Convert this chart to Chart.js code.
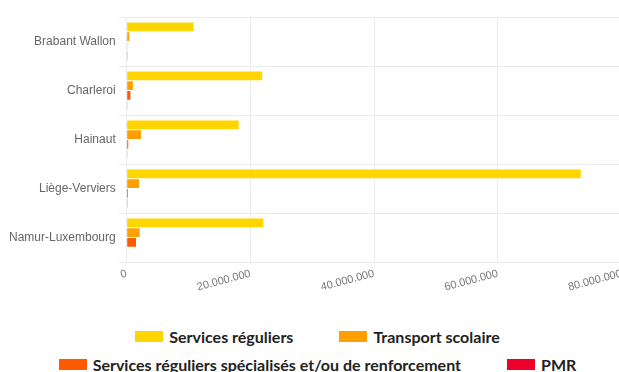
<!DOCTYPE html>
<html lang="fr">
<head>
<meta charset="utf-8">
<script src="https://cdn.jsdelivr.net/npm/chart.js@4.4.0/dist/chart.umd.min.js"></script>
<style>
  html, body { margin: 0; padding: 0; background: #fff; }
  #wrap { width: 619px; height: 372px; position: relative; overflow: hidden; }
  #chartBox { position: absolute; left: 0; top: 0; width: 630px; height: 299px; }
  #legend { position: absolute; left: 8px; top: 322px; width: 619px; font-family: Lato, sans-serif; font-weight: 700; font-size: 16px; color: #222; }
  .row { display: flex; justify-content: center; height: 28px; align-items: center; }
  .item { display: flex; align-items: center; margin: 0 23px; white-space: nowrap; }
  .swatch { width: 28px; height: 11px; margin-right: 6px; }
</style>
</head>
<body>
<div id="wrap">
  <div id="chartBox"><canvas id="chart"></canvas></div>
  <div id="legend"></div>
</div>
<script>
// Regions (categories)
const regions = ['Brabant Wallon', 'Charleroi', 'Hainaut', 'Liège-Verviers', 'Namur-Luxembourg'];

// Kilometres per service type, per region
const servicesReguliers = [10800000, 21900000, 18100000, 73400000, 22100000];
const transportScolaire = [400000, 1000000, 2300000, 2000000, 2100000];
const servicesSpecialises = [100000, 600000, 250000, 200000, 1500000];
const pmr = [50000, 60000, 60000, 50000, 80000];

const seriesNames = ['Services réguliers', 'Transport scolaire', 'Services réguliers spécialisés et/ou de renforcement', 'PMR'];
const seriesColors = ['#ffd500', '#ff9f00', '#ff5a00', '#ec0029'];

const xTicks = [0, 20000000, 40000000, 60000000, 80000000];

function fmt(v) {
    return String(v).replace(/\B(?=(\d{3})+(?!\d))/g, '.');
}

const allSeries = [servicesReguliers, transportScolaire, servicesSpecialises, pmr];

new Chart(document.getElementById('chart'), {
    type: 'bar',
    data: {
        labels: regions,
        datasets: allSeries.map((values, i) => ({
            label: seriesNames[i],
            data: values,
            backgroundColor: seriesColors[i],
            borderWidth: 0
        }))
    },
    options: {
        indexAxis: 'y',
        responsive: true,
        maintainAspectRatio: false,
        animation: false,
        layout: { padding: { top: 17, right: 0, left: 6, bottom: 0 } },
        plugins: {
            legend: { display: false },
            tooltip: { enabled: false }
        },
        scales: {
            x: {
                min: 0,
                max: 80000000,
                afterBuildTicks: axis => { axis.ticks = xTicks.map(v => ({ value: v })); },
                ticks: {
                    color: '#777',
                    font: { family: 'Liberation Sans, Arial, sans-serif', size: 11 },
                    minRotation: 15,
                    maxRotation: 15,
                    padding: 5,
                    callback: v => fmt(v)
                },
                grid: { color: '#ebebeb', drawTicks: false },
                border: { color: '#ebebeb' }
            },
            y: {
                ticks: {
                    color: '#666',
                    font: { family: 'Liberation Sans, Arial, sans-serif', size: 12 }
                },
                grid: { color: '#ebebeb' },
                border: { color: '#ebebeb' }
            }
        }
    }
});

// Legend laid out in two centered rows
const legendRows = [[0, 1], [2, 3]];
const legendEl = document.getElementById('legend');
legendRows.forEach(row => {
    const rowEl = document.createElement('div');
    rowEl.className = 'row';
    row.forEach(i => {
        const item = document.createElement('div');
        item.className = 'item';
        const sw = document.createElement('span');
        sw.className = 'swatch';
        sw.style.background = seriesColors[i];
        const txt = document.createElement('span');
        txt.textContent = seriesNames[i];
        item.appendChild(sw);
        item.appendChild(txt);
        rowEl.appendChild(item);
    });
    legendEl.appendChild(rowEl);
});
</script>
</body>
</html>
